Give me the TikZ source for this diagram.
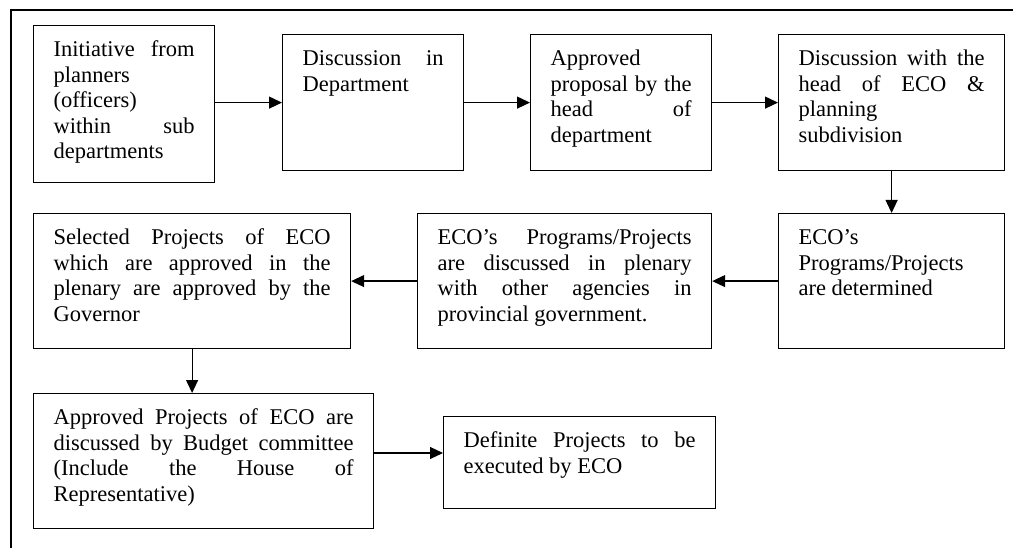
\documentclass[tikz,border=0pt]{standalone}
\usepackage{fontspec}
\setmainfont{Liberation Serif}
\usetikzlibrary{arrows.meta}
\tolerance=10000 \hbadness=10000 \hyphenpenalty=10000

\begin{document}
\begin{tikzpicture}[x=1pt,y=-1pt,
    every node/.style={draw,line width=1.2pt,anchor=north west,inner xsep=20pt,inner ysep=0pt,
      align=justify,text height=31pt,font=\fontsize{22.5}{25.5}\selectfont},
    flow/.style={line width=1.2pt,-{Triangle[length=13pt,width=12pt]}}]
    \useasboundingbox (0,0) rectangle (1013,548);
    \draw[line width=1.5pt] (1013,10) -- (11,10) -- (11,548);

    \node[text width=141pt,text depth=126pt] (init) at (33,25) {Initiative from\linebreak planners\linebreak (officers)\linebreak within sub\linebreak departments};
    \node[text width=141pt,text depth=105pt] (dept) at (282,34) {Discussion in\linebreak Department};
    \node[text width=141pt,text depth=105pt] (head) at (530,34) {Approved\linebreak proposal by the\linebreak head of\linebreak department};
    \node[text width=186pt,text depth=105pt] (eco) at (778,34) {Discussion with the\linebreak head of ECO \&\linebreak planning\linebreak subdivision};
    \node[text width=186pt,text depth=104pt] (det) at (778,213) {ECO’s\linebreak Programs/Projects\linebreak are determined};
    \node[text width=254pt,text depth=104pt] (plen) at (417,213) {ECO’s Programs/Projects\linebreak are discussed in plenary\linebreak with other agencies in\linebreak provincial government.};
    \node[text width=277pt,text depth=104pt] (gov) at (33,213) {Selected Projects of ECO\linebreak which are approved in the\linebreak plenary are approved by the\linebreak Governor};
    \node[text width=300pt,text depth=104pt] (budget) at (33,393) {Approved Projects of ECO are\linebreak discussed by Budget committee\linebreak (Include the House of\linebreak Representative)};
    \node[text width=232pt,text depth=61pt] (final) at (443,416) {Definite Projects to be\linebreak executed by ECO};

    \path[flow] (init.east |- dept.west) edge (dept.west);
    \path[flow] (dept.east) edge (head.west);
    \path[flow] (head.east) edge (eco.west);
    \path[flow] (eco.south) edge (det.north);
    \path[flow] (det.west) edge (plen.east);
    \path[flow] (plen.west) edge (gov.east);
    \path[flow] (gov.south) edge (gov.south |- budget.north);
    \path[flow] ([yshift=-37pt]final.north west -| budget.east) edge ([yshift=-37pt]final.north west);
  \end{tikzpicture}
\end{document}
